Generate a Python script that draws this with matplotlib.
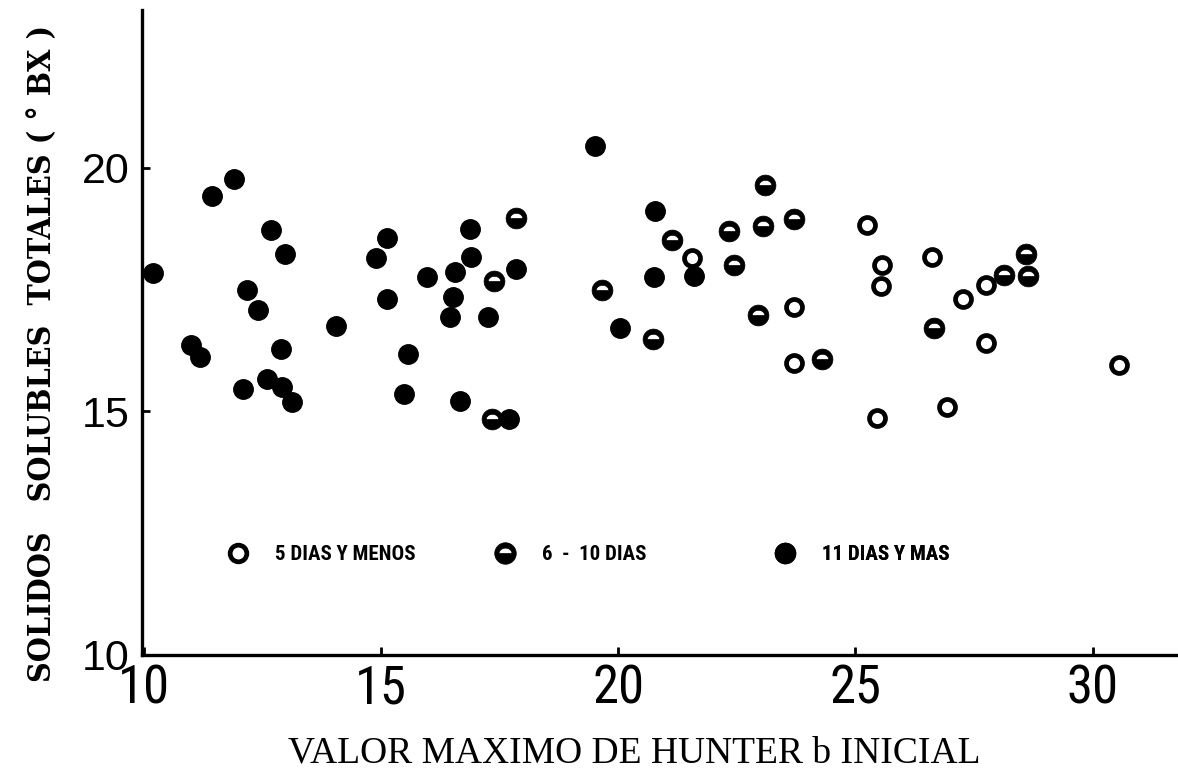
import numpy as np
import matplotlib
matplotlib.use('Agg')
import matplotlib.pyplot as plt
from matplotlib.path import Path
from matplotlib.lines import Line2D

# data
# 5 dias y menos (open circles)
x_5 = [21.55, 23.71, 23.71, 25.24, 25.57, 25.53, 25.46, 26.62, 27.27, 27.76, 27.76, 26.94, 30.55]
y_5 = [18.15, 17.14, 16.00, 18.83, 18.00, 17.57, 14.87, 18.17, 17.30, 17.60, 16.41, 15.10, 15.96]

# 6 - 10 dias (black with white crescent)
x_6 = [17.85, 17.39, 17.34, 19.65, 21.13, 20.73, 22.34, 22.43, 23.10, 23.05, 23.71, 22.94,
       24.30, 26.65, 28.13, 28.59, 28.64]
y_6 = [18.98, 17.68, 14.84, 17.49, 18.51, 16.49, 18.71, 18.01, 19.64, 18.81, 18.95, 16.97,
       16.07, 16.72, 17.81, 18.24, 17.77]

# 11 dias y mas (solid black)
x_11 = [10.20, 11.43, 11.91, 12.69, 12.97, 12.17, 12.40, 11.00, 11.19, 12.90, 12.08, 12.60,
        12.92, 13.12, 14.06, 15.12, 14.90, 15.13, 16.88, 16.90, 16.55, 15.96, 17.85, 16.51,
        16.45, 17.26, 15.56, 15.49, 16.67, 17.70, 19.51, 20.04, 20.78, 21.60, 20.76]
y_11 = [17.85, 19.43, 19.77, 18.73, 18.24, 17.49, 17.08, 16.36, 16.11, 16.29, 15.46, 15.67,
        15.50, 15.20, 16.75, 18.56, 18.14, 17.30, 18.74, 18.17, 17.87, 17.75, 17.92, 17.34,
        16.94, 16.94, 16.18, 15.36, 15.22, 14.85, 20.44, 16.72, 19.12, 17.77, 17.76]

labels = ['5 DIAS Y MENOS', '6  -  10 DIAS', '11 DIAS Y MAS']

# marker for 6-10: black disc with a white crescent near the top
t = np.linspace(0, 2 * np.pi, 65)
outer = np.column_stack([np.cos(t), np.sin(t)])
th = np.linspace(0, np.pi, 25)
hole = np.column_stack([0.6 * np.cos(th), 0.0 + 0.5 * np.sin(th)])[::-1]
verts = np.vstack([outer, outer[:1], hole, hole[:1]])
codes = ([Path.MOVETO] + [Path.LINETO] * 64 + [Path.CLOSEPOLY]
         + [Path.MOVETO] + [Path.LINETO] * 24 + [Path.CLOSEPOLY])
half_marker = Path(verts, codes)

cond = ['Roboto Condensed', 'DejaVu Sans']

fig = plt.figure(figsize=(11.78, 7.71), dpi=100)
ax = fig.add_axes([0.1205, 0.1505, 0.8795, 0.8365])

ax.plot(x_11, y_11, 'o', ms=14, mfc='black', mec='black', mew=1, ls='none')
ax.plot(x_6, y_6, ls='none', marker=half_marker, ms=15, mfc='black', mec='black', mew=0.5)
ax.plot(x_5, y_5, 'o', ms=11.5, mfc='white', mec='black', mew=3.4, ls='none')

ax.set_xlim(9.96, 31.8)
ax.set_ylim(10.0, 23.24)
ax.set_xticks([10, 15, 20, 25, 30])
ax.set_yticks([10, 15, 20])

for s in ['top', 'right']:
    ax.spines[s].set_visible(False)
for s in ['left', 'bottom']:
    ax.spines[s].set_linewidth(2.4)

ax.tick_params(axis='both', direction='in', length=6, width=2)
ax.tick_params(axis='x', pad=6)
ax.tick_params(axis='y', pad=9)
for lab in ax.get_xticklabels():
    lab.set_family(cond)
    lab.set_fontsize(38)
for lab in ax.get_yticklabels():
    lab.set_family(['Liberation Sans', 'DejaVu Sans'])
    lab.set_fontsize(31)

ax.set_xlabel('VALOR MAXIMO DE HUNTER b INICIAL', family=['Liberation Serif', 'DejaVu Serif'],
              fontsize=27)
ax.xaxis.set_label_coords(0.475, -0.126)
ax.set_ylabel('SOLIDOS   SOLUBLES  TOTALES ( \u00b0 BX )', family='DejaVu Serif',
              fontstretch='condensed', fontweight='bold', fontsize=23)
ax.yaxis.set_label_coords(-0.081, 0.468)

# legend, one entry at a time so each sits where it does in the original
handles = [
    Line2D([], [], ls='none', marker='o', ms=12, mfc='white', mec='black', mew=3.4),
    Line2D([], [], ls='none', marker=half_marker, ms=15.5, mfc='black', mec='black', mew=0.5),
    Line2D([], [], ls='none', marker='o', ms=14.5, mfc='black', mec='black', mew=1),
]
anchors = [0.0826, 0.340, 0.611]
for h, lab, xa in zip(handles, labels, anchors):
    leg = ax.legend([h], [lab], loc='center left', bbox_to_anchor=(xa, 0.155),
                    frameon=False, borderpad=0, borderaxespad=0, handlelength=1.0,
                    handletextpad=1.28, prop={'family': cond, 'weight': 'bold', 'size': 15})
    ax.add_artist(leg)

plt.savefig('out.png')
